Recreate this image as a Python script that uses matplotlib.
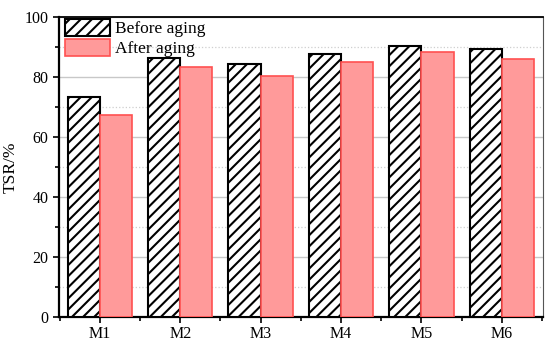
import matplotlib
matplotlib.use("Agg")
import matplotlib.pyplot as plt
import numpy as np
from matplotlib.ticker import MultipleLocator, FixedLocator

categories = ["M1", "M2", "M3", "M4", "M5", "M6"]
before_aging = [73.3, 86.4, 84.4, 87.7, 90.3, 89.3]
after_aging = [67.3, 83.4, 80.4, 84.9, 88.4, 85.9]
y_ticks = [0, 20, 40, 60, 80, 100]

plt.rcParams['font.family'] = ['Liberation Serif', 'DejaVu Serif']
plt.rcParams['hatch.linewidth'] = 1.5

fig = plt.figure(figsize=(5.5, 3.45), dpi=100)
ax = fig.add_axes([0.107, 0.081, 0.88, 0.87])

x = np.arange(len(categories))
w = 0.4
ax.bar(x - w/2, before_aging, width=w, facecolor='white', edgecolor='black',
       hatch='///', linewidth=1.5, label='Before aging', zorder=3)
ax.bar(x + w/2, after_aging, width=w, facecolor='#ff9a9a', edgecolor='#ff5050',
       linewidth=1.2, label='After aging', zorder=3)

ax.set_xlim(-0.51, 5.51)
ax.set_ylim(0, 100)
ax.set_xticks(x)
ax.set_xticklabels(categories, fontsize=11.5)
ax.xaxis.set_minor_locator(FixedLocator(np.arange(-0.5, 6.0, 1.0)))
ax.set_yticks(y_ticks)
ax.yaxis.set_minor_locator(MultipleLocator(10))
ax.tick_params(axis='both', which='major', labelsize=11.5, direction='out', length=4, width=1.2)
ax.tick_params(axis='both', which='minor', direction='out', length=3, width=1.2)
ax.tick_params(axis='x', which='major', pad=2.5)

ax.grid(True, which='major', axis='y', color='#c8c8c8', linewidth=1.0, zorder=0)
ax.grid(True, which='minor', axis='y', color='#cfcfcf', linewidth=0.9, linestyle=':', zorder=0)
ax.set_axisbelow(True)

ax.spines['left'].set_linewidth(1.6)
ax.spines['bottom'].set_linewidth(1.6)
ax.spines['top'].set_linewidth(1.3)
ax.spines['right'].set_linewidth(0.8)
ax.spines['right'].set_color('#555555')

ax.set_ylabel('TSR/%', fontsize=12.5, labelpad=4)

leg = ax.legend(loc='upper left', bbox_to_anchor=(0.005, 1.005), frameon=False,
                fontsize=12.5, handlelength=2.6, handleheight=1.1,
                handletextpad=0.3, labelspacing=0.1, borderaxespad=0.1, borderpad=0.1)

fig.savefig('out.png', dpi=100)
